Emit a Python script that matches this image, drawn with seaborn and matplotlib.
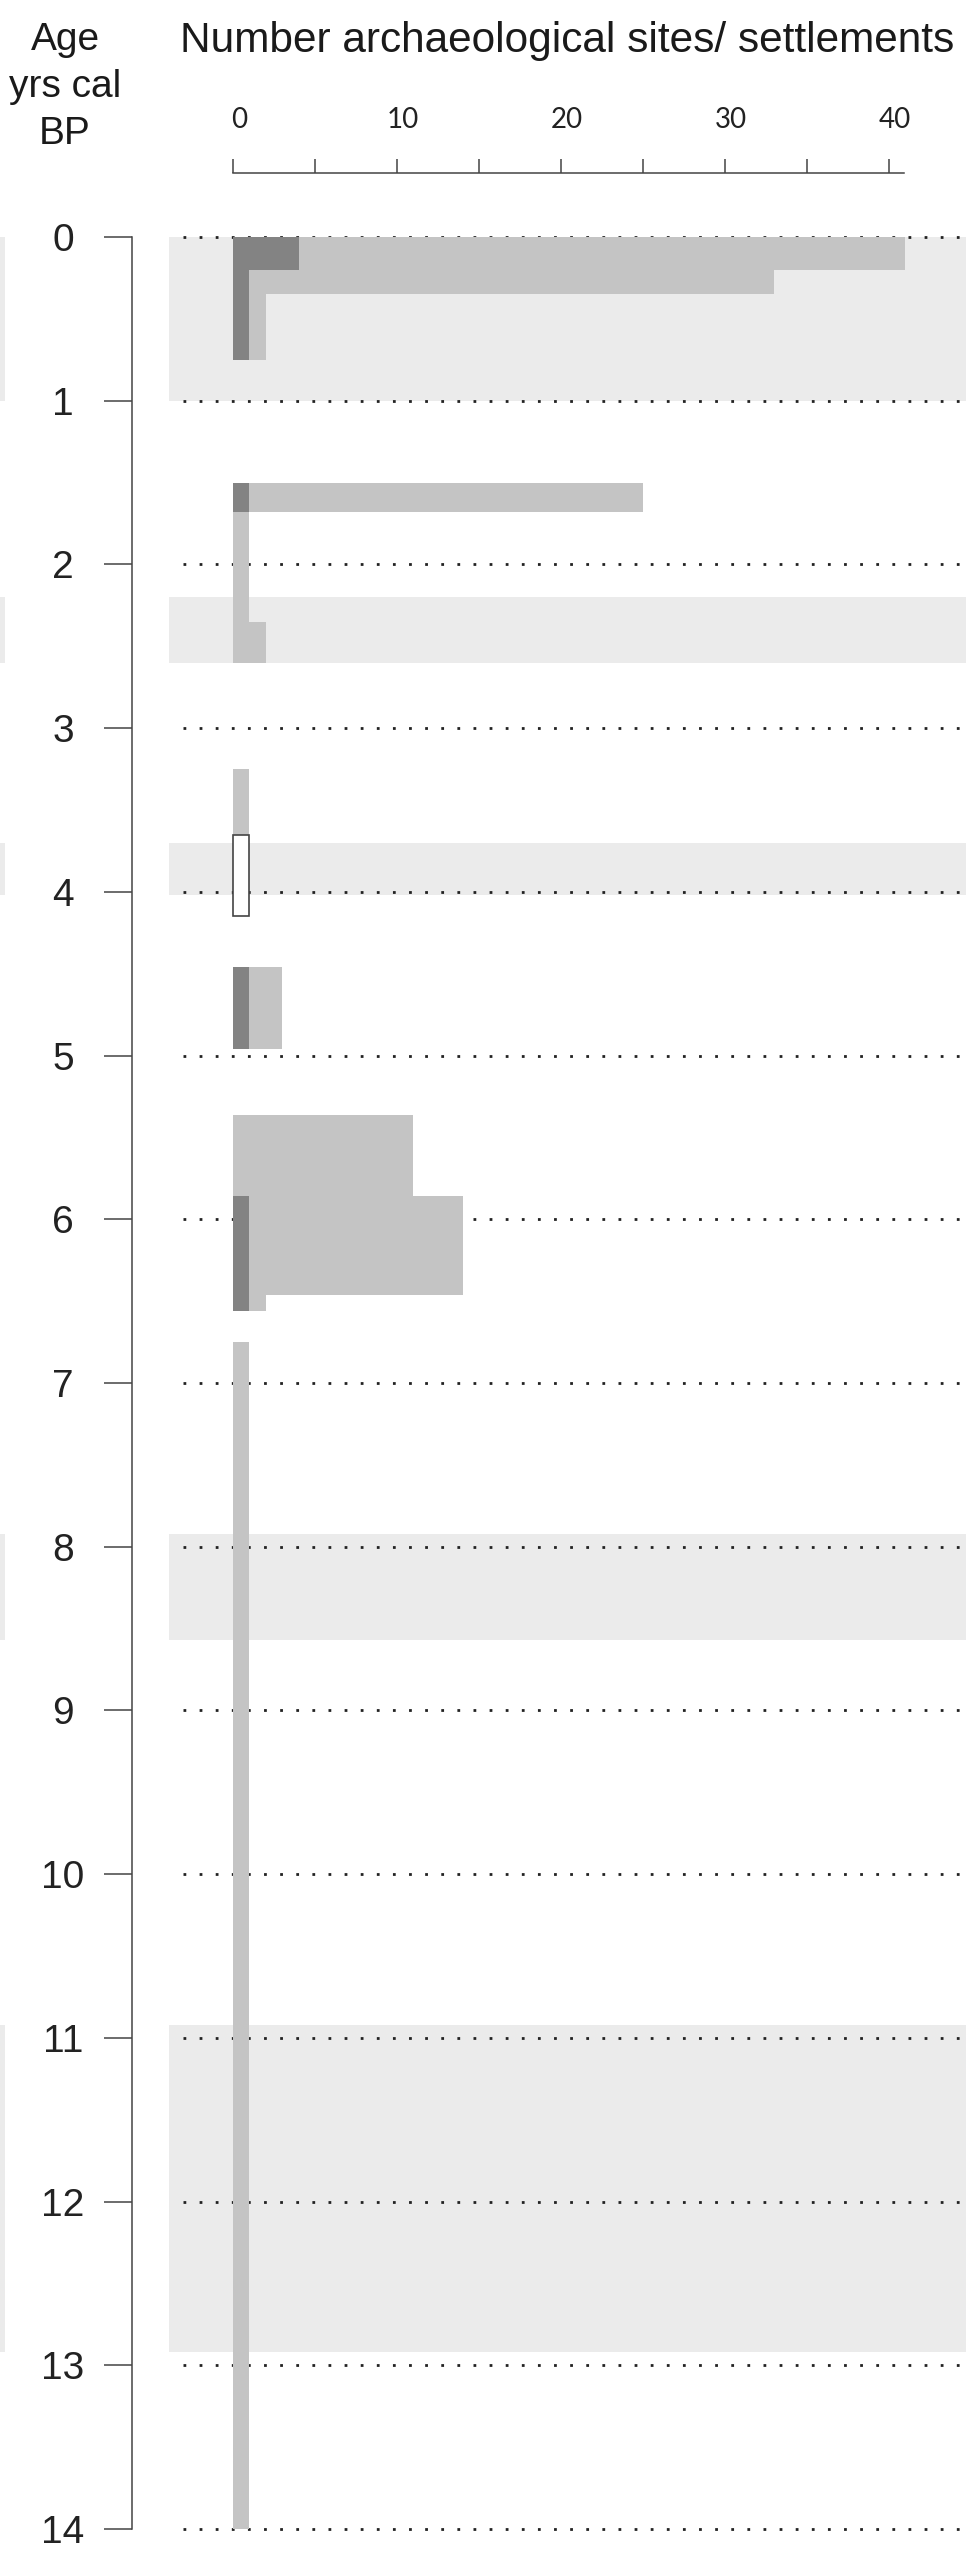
import matplotlib
matplotlib.use("Agg")
import matplotlib.pyplot as plt
import matplotlib.transforms as mtransforms
from matplotlib.patches import Rectangle
import seaborn as sns

# Number of archaeological sites (all) per age interval, ka cal BP
site_start = [0.00, 0.20, 0.35, 1.50, 1.68, 2.35, 3.25, 4.46, 5.36, 5.86, 6.46, 6.75]
site_end   = [0.20, 0.35, 0.75, 1.68, 2.35, 2.60, 3.65, 4.96, 5.86, 6.46, 6.56, 14.00]
site_count = [41, 33, 2, 25, 1, 2, 1, 3, 11, 14, 2, 1]

# Settlements among them
settle_start = [0.00, 0.20, 1.50, 4.46, 5.86]
settle_end   = [0.20, 0.75, 1.68, 4.96, 6.56]
settle_count = [4, 1, 1, 1, 1]

# Uncertain occurrence (open box)
open_start = [3.65]
open_end   = [4.15]
open_count = [1]

# Shaded climatic intervals
band_start = [0.00, 2.20, 3.70, 7.92, 10.92]
band_end   = [1.00, 2.60, 4.02, 8.57, 12.92]

age_ticks = list(range(0, 15))
count_ticks = [0, 5, 10, 15, 20, 25, 30, 35, 40]
count_labels = ["0", "", "10", "", "20", "", "30", "", "40"]

sns.set_theme(style="white")
plt.rcParams["font.family"] = ["Liberation Sans", "DejaVu Sans"]

W, H, DPI = 966, 2550, 100
fig = plt.figure(figsize=(W / DPI, H / DPI), dpi=DPI)

px_per_unit = 16.4
x0_px = 233.0
ax_left_px, ax_right_px = 169.0, 966.0
ax_top_px, ax_bot_px = 237.0, 2529.0

ax = fig.add_axes([ax_left_px / W, 1 - ax_bot_px / H,
                   (ax_right_px - ax_left_px) / W, (ax_bot_px - ax_top_px) / H])
ax.set_xlim((ax_left_px - x0_px) / px_per_unit, (ax_right_px - x0_px) / px_per_unit)
ax.set_ylim(14, 0)
ax.set_facecolor("none")

# shaded intervals
for s, e in zip(band_start, band_end):
    ax.axhspan(s, e, xmin=0, xmax=1, color="#ebebeb", lw=0, zorder=0)

# thin strips of the neighbouring panel at the left figure edge
strip_tr = mtransforms.blended_transform_factory(fig.transFigure, ax.transData)
for s, e in zip(band_start, band_end):
    fig.patches.append(Rectangle((0, s), 5 / W, e - s, transform=strip_tr,
                                 facecolor="#ebebeb", edgecolor="none", zorder=0))

# dotted guide lines at each age
dot_x0 = (183 - x0_px) / px_per_unit
dot_x1 = (ax_right_px - x0_px) / px_per_unit
for a in age_ticks:
    ax.plot([dot_x0, dot_x1], [a, a], color="#222222", lw=2.0,
            linestyle=(0, (1, 4.8)), dash_capstyle="butt", clip_on=False, zorder=1)

# bars
site_h = [e - s for s, e in zip(site_start, site_end)]
ax.barh(site_start, site_count, height=site_h, left=0, align="edge",
        color="#c4c4c4", lw=0, zorder=2)
settle_h = [e - s for s, e in zip(settle_start, settle_end)]
ax.barh(settle_start, settle_count, height=settle_h, left=0, align="edge",
        color="#838383", lw=0, zorder=3)
open_h = [e - s for s, e in zip(open_start, open_end)]
ax.barh(open_start, open_count, height=open_h, left=0, align="edge",
        facecolor="white", edgecolor="#444444", lw=1.2, zorder=3)

# axes styling
for side in ["right", "bottom"]:
    ax.spines[side].set_visible(False)
ax.grid(False)

pt = 72 / DPI  # points per pixel

ax.spines["left"].set_position(("outward", (ax_left_px - 132) * pt))
ax.spines["left"].set_bounds(0, 14)
ax.spines["left"].set_color("#444444")
ax.spines["left"].set_linewidth(1.1)
ax.set_yticks(age_ticks)
ax.set_yticklabels([str(a) for a in age_ticks])
ax.tick_params(axis="y", left=True, direction="out", length=28 * pt, width=1.1,
               color="#444444", pad=41 * pt, labelsize=28, labelcolor="#222222")
for lab in ax.get_yticklabels():
    lab.set_horizontalalignment("center")

ax.spines["top"].set_position(("outward", (ax_top_px - 173) * pt))
ax.spines["top"].set_bounds(0, (904 - x0_px) / px_per_unit)
ax.spines["top"].set_color("#444444")
ax.spines["top"].set_linewidth(1.1)
ax.xaxis.tick_top()
ax.set_xticks(count_ticks)
ax.set_xticklabels(count_labels)
ax.tick_params(axis="x", top=True, bottom=False, direction="out", length=14 * pt,
               width=1.1, color="#444444", pad=26 * pt, labelsize=20,
               labelcolor="#222222")
shift = mtransforms.ScaledTranslation(6 / DPI, 0, fig.dpi_scale_trans)
for lab in ax.get_xticklabels():
    lab.set_family(["Lato", "DejaVu Sans"])
    lab.set_transform(lab.get_transform() + shift)

# headings
fig.text(567 / W, 1 - 52 / H, "Number archaeological sites/ settlements",
         ha="center", va="baseline", fontsize=30.5, color="#1a1a1a")
for txt, base in [("Age", 50), ("yrs cal", 97), ("BP", 144)]:
    fig.text(65 / W, 1 - base / H, txt, ha="center", va="baseline",
             fontsize=28, color="#1a1a1a")

fig.savefig("out.png", dpi=DPI, facecolor="white")
